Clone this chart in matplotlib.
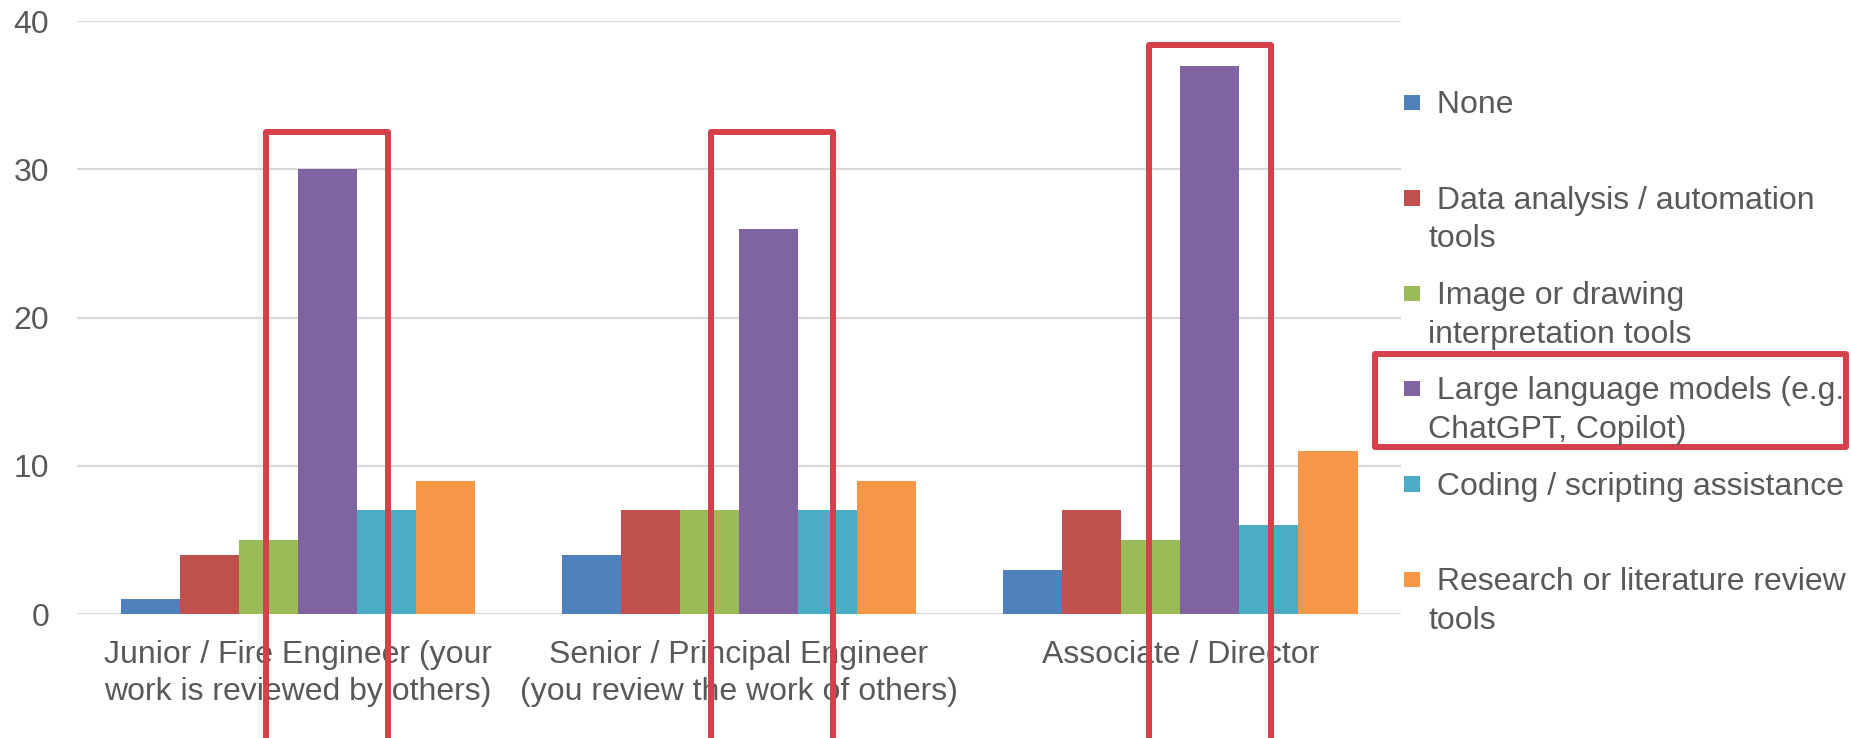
import matplotlib.pyplot as plt
import numpy as np
from matplotlib.patches import Rectangle

plt.rcParams['font.family'] = ['Liberation Sans', 'DejaVu Sans']

roles = ['Junior / Fire Engineer (your\nwork is reviewed by others)',
         'Senior / Principal Engineer\n(you review the work of others)',
         'Associate / Director']

tools = ['None',
         'Data analysis / automation\ntools',
         'Image or drawing\ninterpretation tools',
         'Large language models (e.g.\nChatGPT, Copilot)',
         'Coding / scripting assistance',
         'Research or literature review\ntools']

none_vals = [1, 4, 3]
data_vals = [4, 7, 7]
image_vals = [5, 7, 5]
llm_vals = [30, 26, 37]
coding_vals = [7, 7, 6]
research_vals = [9, 9, 11]

series = [none_vals, data_vals, image_vals, llm_vals, coding_vals, research_vals]
colors = ['#4F81BD', '#C0504D', '#9BBB59', '#8064A2', '#4BACC6', '#F79646']

yticks = [0, 10, 20, 30, 40]

TEXT = '#595959'
GRID = '#D9D9D9'
MARK = '#D6404A'
FS = 23

fig = plt.figure(figsize=(18.51, 7.38), dpi=100)
ax = fig.add_axes([0.0415, 0.168, 0.7155, 0.8032])

x = np.arange(len(roles))
n = len(series)
bw = 0.802 / n
for i, (vals, c) in enumerate(zip(series, colors)):
    ax.bar(x + (i - (n - 1) / 2) * bw, vals, width=bw, color=c, zorder=3)

ax.set_xlim(-0.5, len(roles) - 0.5)
ax.set_ylim(0, 40)
ax.set_yticks(yticks)
ax.yaxis.grid(True, color=GRID, linewidth=1.5, zorder=0)
ax.set_axisbelow(True)
for s in ax.spines.values():
    s.set_visible(False)
ax.tick_params(axis='both', length=0, labelsize=FS, labelcolor=TEXT)
ax.tick_params(axis='y', pad=20)
ax.tick_params(axis='x', pad=19)
ax.set_xticks(x)
ax.set_xticklabels(roles, linespacing=1.27)

# red boxes around the LLM bars
llm_pos = x + (3 - (n - 1) / 2) * bw
box_tops = [32.5, 32.5, 38.4]
box_shift = [0.0, 0.008, 0.0]
for cx, top, dx in zip(llm_pos, box_tops, box_shift):
    ax.add_patch(Rectangle((cx - 0.139 + dx, -20), 0.278, top + 20, fill=False,
                           edgecolor=MARK, linewidth=4.3, clip_on=False,
                           zorder=5, joinstyle='round'))

# legend drawn by hand, one slot per series
for i, (label, c) in enumerate(zip(tools, colors)):
    yc = 0.862 - i * 0.1292
    fig.patches.append(Rectangle((0.7587, yc - 0.0115), 0.0082, 0.021,
                                 transform=fig.transFigure, facecolor=c,
                                 edgecolor='none'))
    lines = label.split('\n')
    for j, line in enumerate(lines):
        fig.text(0.7717, yc - j * 0.0525, (' ' if j == 0 else '') + line,
                 fontsize=FS, color=TEXT, ha='left', va='center_baseline')

fig.patches.append(Rectangle((0.7427, 0.3944), 0.2544, 0.1264,
                             transform=fig.transFigure, fill=False,
                             edgecolor=MARK, linewidth=4.3, joinstyle='round'))

fig.savefig('out.png', dpi=100)
